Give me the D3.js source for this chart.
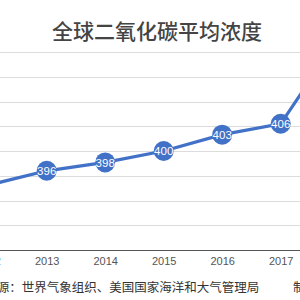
<!DOCTYPE html>
<html><head><meta charset="utf-8">
<script src="https://cdn.jsdelivr.net/npm/d3@7"></script>
<style>html,body{margin:0;padding:0;background:#fff;}svg{display:block;}</style>
</head><body>
<script>
const years = ["2012","2013","2014","2015","2016","2017","2018"];
const values = [393.1, 396.0, 397.7, 400.0, 403.3, 405.5, 423];
const labels = ["393","396","398","400","403","406","423"];
const yTicks = [385, 390, 395, 400, 405, 410, 415, 420];
const title = "全球二氧化碳平均浓度";
const source = "来源：世界气象组织、美国国家海洋和大气管理局";
const credit = "制图";

const W = 300, H = 300;
const svg = d3.select("body").append("svg").attr("width", W).attr("height", H);
svg.append("rect").attr("width", W).attr("height", H).attr("fill", "#fff");

const x = d3.scalePoint().domain(years).range([-11.8, 339.2]);
const y = d3.scaleLinear().domain([380, 420]).range([250, 52]);

// gridlines
svg.append("g").selectAll("line").data(yTicks).join("line")
  .attr("x1", 0).attr("x2", W)
  .attr("y1", d => Math.round(y(d)) + 0.5).attr("y2", d => Math.round(y(d)) + 0.5)
  .attr("stroke", "#dcdcdc").attr("stroke-width", 1);

// x axis
const ax = svg.append("g").attr("transform", `translate(0,${y(380)})`)
  .call(d3.axisBottom(x).tickSize(0).tickPadding(7));
ax.select(".domain").remove();
ax.append("line").attr("x1", 0).attr("x2", W).attr("y1", 0.5).attr("y2", 0.5)
  .attr("stroke", "#555").attr("stroke-width", 1.2);
ax.selectAll("text").attr("font-family", "Liberation Sans, Arial, sans-serif")
  .attr("font-size", 11).attr("fill", "#555");

// line
const pts = years.map((yr, i) => ({yr, v: values[i], lab: labels[i]}));
svg.append("path").datum(pts)
  .attr("d", d3.line().x(d => x(d.yr)).y(d => y(d.v)))
  .attr("fill", "none").attr("stroke", "#4272c8").attr("stroke-width", 3.2);

const g = svg.append("g").selectAll("g").data(pts).join("g")
  .attr("transform", d => `translate(${x(d.yr)},${y(d.v)})`);
g.append("circle").attr("r", 10).attr("fill", "#4272c8");
g.append("text").text(d => d.lab).attr("text-anchor", "middle").attr("dy", "0.36em")
  .attr("font-family", "Liberation Sans, Arial, sans-serif").attr("font-size", 11.5)
  .attr("fill", "#fff");

// title
svg.append("text").text(title).attr("x", 157).attr("y", 39).attr("text-anchor", "middle")
  .attr("font-family", "Noto Sans CJK SC").attr("font-size", 21).attr("font-weight", 500)
  .attr("fill", "#444");

// source
svg.append("text").text(source).attr("x", -15.8).attr("y", 292)
  .attr("font-family", "Noto Sans CJK SC").attr("font-size", 12.5).attr("fill", "#333");
svg.append("text").text(credit).attr("x", 293).attr("y", 292)
  .attr("font-family", "Noto Sans CJK SC").attr("font-size", 12.5).attr("fill", "#333");
</script>
</body></html>
